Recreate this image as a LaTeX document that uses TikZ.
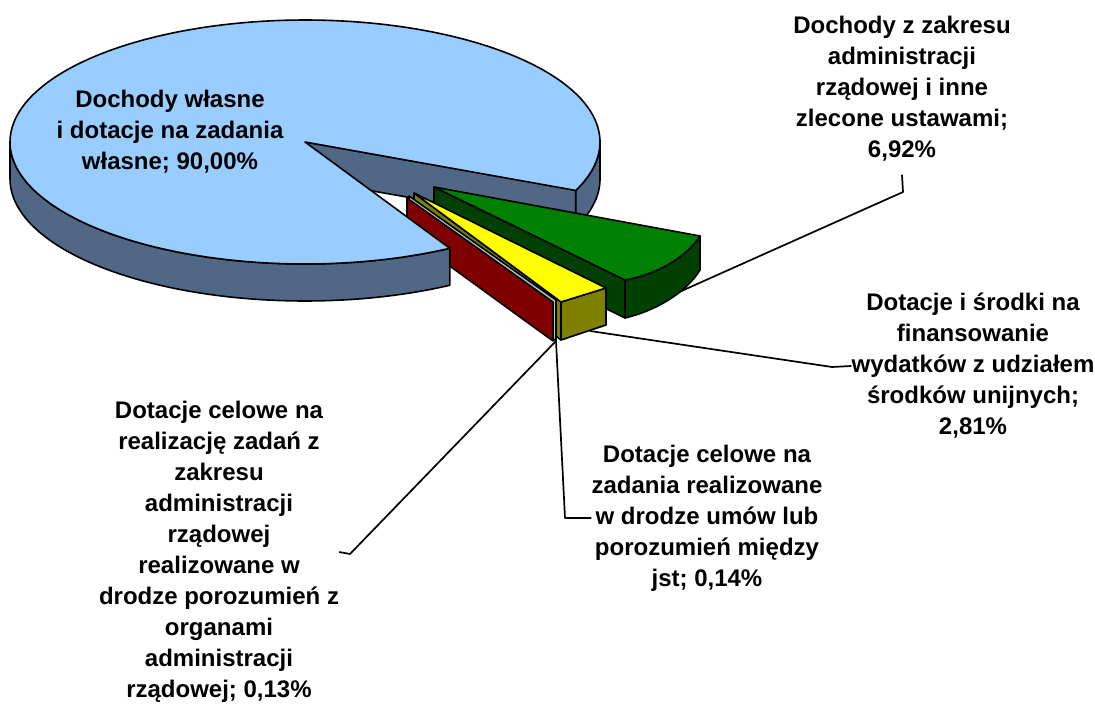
\documentclass[tikz,border=0pt]{standalone}
\usepackage{fontspec}
\setmainfont{Liberation Sans}
\definecolor{bluetop}{RGB}{153,204,255}
\definecolor{bluerim}{RGB}{80,104,134}
\definecolor{greentop}{RGB}{0,128,0}
\definecolor{greendark}{RGB}{0,64,0}
\definecolor{yel}{RGB}{255,255,0}
\definecolor{olivec}{RGB}{128,128,0}
\definecolor{redwall}{RGB}{128,0,0}
\definecolor{graywall}{RGB}{170,200,210}
\begin{document}
\begin{tikzpicture}[x=1pt,y=-1pt,line join=round,
  outl/.style={draw=black,line width=1.6pt},
  lbl/.style={font=\fontsize{24}{31}\selectfont\bfseries,align=center,inner sep=0pt},
  leader/.style={draw=black,line width=1.7pt}]
\useasboundingbox (0,0) rectangle (1095,711);

% labels
\node[lbl] (lab2) at (902,89) {Dochody z zakresu\\administracji\\rządowej i inne\\zlecone ustawami;\\6,92\%};
\node[lbl] (lab3) at (973,366) {Dotacje i środki na\\finansowanie\\wydatków z udziałem\\środków unijnych;\\2,81\%};
\node[lbl] (lab4) at (707,518) {Dotacje celowe na\\zadania realizowane\\w drodze umów lub\\porozumień między\\jst; 0,14\%};
\node[lbl] (lab5) at (219,552) {Dotacje celowe na\\realizację zadań z\\zakresu\\administracji\\rządowej\\realizowane w\\drodze porozumień z\\organami\\administracji\\rządowej; 0,13\%};

% leader anchor points
\coordinate (k2b) at (903,192);
\coordinate (k2c) at (668,297);
\coordinate (k3b) at (832,367);
\coordinate (k3c) at (590,331);
\coordinate (k4b) at (565,518);
\coordinate (k45) at (556,341);
\coordinate (k5b) at (350,554);

% blue slice: back wall and right rim
\path[outl,fill=bluerim] (305,142) -- (576,190) -- (576,227) -- (305,179) -- cycle;
\path[outl,fill=bluerim] plot[domain=0:23.4,samples=20] ({305+295*cos(\x)},{142+122*sin(\x)})
  -- plot[domain=23.4:0,samples=20] ({305+295*cos(\x)},{179+122*sin(\x)}) -- cycle;

% leader to green (behind green)
\draw[leader] (lab2.south) ++(0,13) -- (k2b) -- (k2c);

% green slice
\path[outl,fill=greendark] (434,187) -- (625,280) -- (625,318) -- (434,224) -- cycle;
\path[outl,fill=greendark] (625,280) .. controls (655,275) and (686,258) .. (700,236)
  -- (700,270) .. controls (686,293) and (655,311) .. (625,318) -- cycle;
\path[outl,fill=greentop] (434,187) -- (700,236) .. controls (686,258) and (655,275) .. (625,280) -- cycle;

% yellow slice
\path[outl,fill=olivec] (414,193) -- (561,302) -- (561,340) -- (414,230) -- cycle;
\path[outl,fill=olivec] (561,302) -- (606,288) -- (606,325) -- (561,340) -- cycle;
\path[outl,fill=yel] (414,193) -- (606,288) -- (561,302) -- cycle;

% thin grey slice
\path[outl,fill=graywall] (409,196) -- (556,300) -- (556,341) -- (409,233) -- cycle;

% red slice
\path[outl,fill=redwall] (407,198) -- (553,302) -- (553,341) -- (407,235) -- cycle;

% blue slice: front rim and top
\path[outl,fill=bluerim] plot[domain=60.6:180,samples=60] ({305+295*cos(\x)},{142+122*sin(\x)})
  -- plot[domain=180:60.6,samples=60] ({305+295*cos(\x)},{179+122*sin(\x)}) -- cycle;
\path[outl,fill=bluetop] (305,142) -- plot[domain=60.6:383.4,samples=160] ({305+295*cos(\x)},{142+122*sin(\x)}) -- cycle;

% label on the blue slice
\node[lbl] (lab1) at (170,132) {Dochody własne\\i dotacje na zadania\\własne; 90,00\%};

% other leaders
\draw[leader] (lab3.west) -- (k3b) -- (k3c);
\draw[leader] (lab4.west) -- (k4b) -- (k45);
\draw[leader] (lab5.east) -- (k5b) -- (k45);
\end{tikzpicture}
\end{document}
